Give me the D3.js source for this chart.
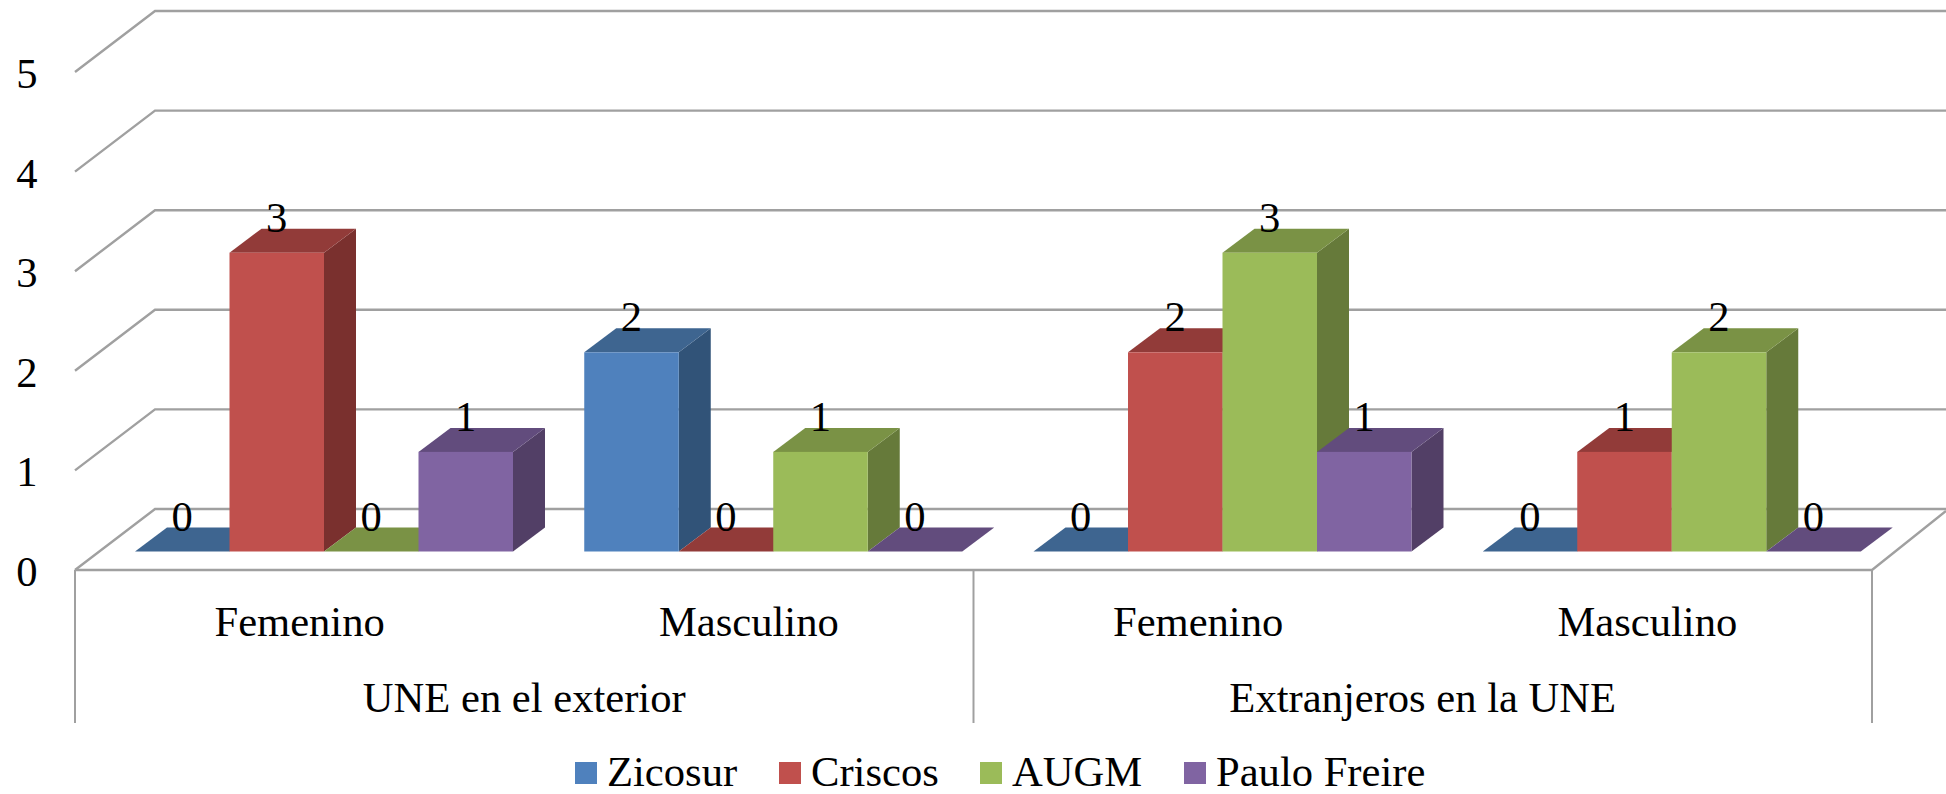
<!DOCTYPE html>
<html><head><meta charset="utf-8">
<script src="https://cdnjs.cloudflare.com/ajax/libs/d3/7.8.5/d3.min.js"></script>
<style>html,body{margin:0;padding:0;background:#fff;overflow:hidden}svg{display:block}text{font-family:"Liberation Serif","Times New Roman",serif;fill:#000}</style>
</head><body><svg id="c" width="1946" height="794"></svg>
<script>
const groups = ["UNE en el exterior", "Extranjeros en la UNE"];
const categories = ["Femenino", "Masculino", "Femenino", "Masculino"];
const seriesNames = ["Zicosur", "Criscos", "AUGM", "Paulo Freire"];
const zicosur = [0, 2, 0, 0];
const criscos = [3, 0, 2, 1];
const augm = [0, 1, 3, 2];
const pauloFreire = [1, 0, 1, 0];
const seriesValues = [zicosur, criscos, augm, pauloFreire];
const yTicks = [0, 1, 2, 3, 4, 5];
const faceColors = ["#4F81BD", "#C0504D", "#9BBB59", "#8064A2"];
const topColors = ["#3E6590", "#923B39", "#7A9245", "#624C7D"];
const sideColors = ["#315378", "#7A302E", "#667A3A", "#523F66"];

const svg = d3.select("#c");
const left = 75, right = 1872, depthX = 80, depthY = 61, barDX = 32, barDY = 24;
const grid = "#a0a0a0", fs = 42.6, gw = 2.4;
const y = d3.scaleLinear().domain([0, 5]).range([570, 72]);
const x0 = d3.scaleBand().domain(d3.range(4)).range([left, right]);
const x1 = d3.scaleBand().domain(d3.range(4)).range([60, 438]);
const gx = d3.scaleBand().domain(d3.range(2)).range([left, right]);
const barBase = 551.5;
const barY = d3.scaleLinear().domain([0, 5]).range([barBase, barBase - 5 * 99.6]);

// walls
yTicks.forEach(t => {
  svg.append("polyline").attr("fill", "none").attr("stroke", grid).attr("stroke-width", gw)
    .attr("points", [[left, y(t)], [left + depthX, y(t) - depthY], [1946, y(t) - depthY]].join(" "));
  svg.append("text").attr("x", 27).attr("y", y(t) + 16).attr("text-anchor", "middle")
    .attr("font-size", fs).text(t);
});
// floor
svg.append("polyline").attr("fill", "none").attr("stroke", grid).attr("stroke-width", gw)
  .attr("points", [[left, y(0)], [right, y(0)], [1946, y(0) - 59]].join(" "));
// multilevel axis separators
[left, gx(1), right].forEach(v => svg.append("line").attr("x1", v).attr("x2", v)
  .attr("y1", y(0)).attr("y2", 723).attr("stroke", grid).attr("stroke-width", 2));

// bars
categories.forEach((c, ci) => {
  seriesValues.forEach((vals, si) => {
    const v = vals[ci], xa = x0(ci) + x1(si), w = x1.bandwidth(), ya = barY(v), g = svg.append("g");
    if (v > 0) {
      g.append("polygon").attr("fill", sideColors[si])
        .attr("points", [[xa + w, ya], [xa + w + barDX, ya - barDY], [xa + w + barDX, barBase - barDY], [xa + w, barBase]].join(" "));
    }
    g.append("polygon").attr("fill", topColors[si])
      .attr("points", [[xa, ya], [xa + barDX, ya - barDY], [xa + w + barDX, ya - barDY], [xa + w, ya]].join(" "));
    if (v > 0) g.append("rect").attr("x", xa).attr("y", ya).attr("width", w).attr("height", barBase - ya).attr("fill", faceColors[si]);
  });
});
// data labels
categories.forEach((c, ci) => seriesValues.forEach((vals, si) => {
  svg.append("text").attr("x", x0(ci) + x1(si) + x1.bandwidth() / 2).attr("y", barY(vals[ci]) - 21)
    .attr("text-anchor", "middle").attr("font-size", fs).text(vals[ci]);
}));
// axis labels
categories.forEach((c, ci) => svg.append("text").attr("x", x0(ci) + x0.bandwidth() / 2).attr("y", 636)
  .attr("text-anchor", "middle").attr("font-size", fs).text(c));
groups.forEach((c, i) => svg.append("text").attr("x", gx(i) + gx.bandwidth() / 2).attr("y", 712)
  .attr("text-anchor", "middle").attr("font-size", fs).text(c));
// legend
const legendX = d3.scaleOrdinal().domain(seriesNames).range([575, 779, 980, 1184]);
seriesNames.forEach((n, i) => {
  svg.append("rect").attr("x", legendX(n)).attr("y", 762).attr("width", 22).attr("height", 22).attr("fill", faceColors[i]);
  svg.append("text").attr("x", legendX(n) + 32).attr("y", 786).attr("font-size", fs).text(n);
});
</script></body></html>
